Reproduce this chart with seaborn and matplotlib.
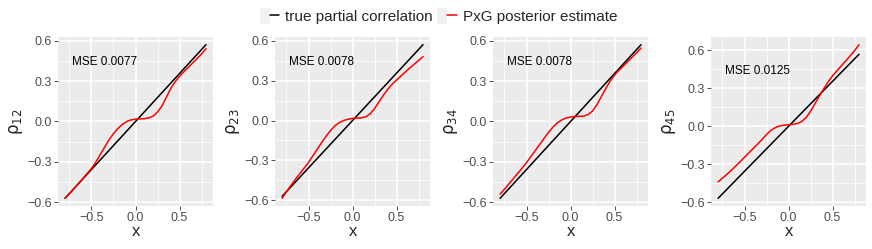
import numpy as np
import pandas as pd
import matplotlib
matplotlib.use('Agg')
import matplotlib.pyplot as plt
from matplotlib.patches import Rectangle
from matplotlib.lines import Line2D
from matplotlib.legend_handler import HandlerTuple
import seaborn as sns

# --- data ---
x_est = [-0.80, -0.75, -0.70, -0.65, -0.60, -0.55, -0.50, -0.45, -0.40, -0.35,
         -0.30, -0.25, -0.20, -0.15, -0.10, -0.05, 0.00, 0.05, 0.10, 0.15,
         0.20, 0.25, 0.30, 0.35, 0.40, 0.45, 0.50, 0.55, 0.60, 0.65,
         0.70, 0.75, 0.80]

est_12 = [-0.570, -0.535, -0.500, -0.462, -0.425, -0.387, -0.348, -0.300, -0.245, -0.190,
          -0.135, -0.090, -0.052, -0.022, 0.000, 0.012, 0.018, 0.019, 0.021, 0.026,
          0.040, 0.070, 0.115, 0.180, 0.245, 0.295, 0.335, 0.370, 0.402, 0.435,
          0.468, 0.502, 0.540]
est_23 = [-0.585, -0.535, -0.488, -0.443, -0.400, -0.358, -0.315, -0.265, -0.215, -0.165,
          -0.118, -0.075, -0.040, -0.015, 0.000, 0.010, 0.016, 0.018, 0.020, 0.028,
          0.050, 0.090, 0.140, 0.190, 0.235, 0.273, 0.305, 0.335, 0.365, 0.395,
          0.423, 0.452, 0.480]
est_34 = [-0.540, -0.502, -0.463, -0.424, -0.385, -0.346, -0.305, -0.260, -0.215, -0.170,
          -0.125, -0.080, -0.042, -0.010, 0.012, 0.026, 0.033, 0.037, 0.038, 0.040,
          0.052, 0.078, 0.125, 0.185, 0.245, 0.300, 0.345, 0.380, 0.413, 0.445,
          0.478, 0.511, 0.545]
est_45 = [-0.440, -0.410, -0.380, -0.348, -0.315, -0.280, -0.245, -0.210, -0.175, -0.140,
          -0.103, -0.065, -0.032, -0.010, 0.003, 0.009, 0.012, 0.015, 0.022, 0.038,
          0.070, 0.120, 0.180, 0.240, 0.298, 0.352, 0.400, 0.440, 0.480, 0.518,
          0.558, 0.600, 0.646]

x_true = [-0.80, 0.00, 0.80]
true_vals = [-0.57, 0.00, 0.57]

pairs = ['12', '23', '34', '45']
estimates = [est_12, est_23, est_34, est_45]
mse = ['0.0077', '0.0078', '0.0078', '0.0125']

TRUE_LAB = 'true partial correlation'
EST_LAB = 'PxG posterior estimate'

sns.set_theme(style='darkgrid')
plt.rcParams['font.family'] = ['Liberation Sans', 'DejaVu Sans']
plt.rcParams['mathtext.fontset'] = 'custom'
plt.rcParams['mathtext.rm'] = 'DejaVu Sans'
plt.rcParams['mathtext.it'] = 'DejaVu Sans:italic'

fig = plt.figure(figsize=(8.72, 2.49), dpi=100)
lefts = [0.0665, 0.3154, 0.5654, 0.8154]
bottom, height, width = 0.1727, 0.6787, 0.1778

for i, (p, est) in enumerate(zip(pairs, estimates)):
    ax = fig.add_axes([lefts[i], bottom, width, height])
    df = pd.concat([
        pd.DataFrame({'x': x_true, 'y': true_vals, 'series': TRUE_LAB}),
        pd.DataFrame({'x': x_est, 'y': est, 'series': EST_LAB}),
    ])
    sns.lineplot(data=df, x='x', y='y', hue='series',
                 palette={TRUE_LAB: 'black', EST_LAB: '#FF0000'},
                 linewidth=1.1, legend=False, ax=ax, sort=False)
    ax.set_facecolor('#EBEBEB')
    ymin, ymax = df['y'].min(), df['y'].max()
    pad = (ymax - ymin) * 0.05
    ax.set_ylim(ymin - pad, ymax + pad)
    ax.set_xlim(-0.88, 0.88)
    ax.set_xticks([-0.5, 0.0, 0.5])
    ax.set_yticks([-0.6, -0.3, 0.0, 0.3, 0.6])
    ax.set_xticks([-0.75, -0.25, 0.25, 0.75], minor=True)
    ax.set_yticks([-0.45, -0.15, 0.15, 0.45], minor=True)
    ax.set_xticklabels(['\u22120.5', '0.0', '0.5'])
    ax.set_yticklabels(['\u22120.6', '\u22120.3', '0.0', '0.3', '0.6'])
    ax.grid(which='major', color='white', linewidth=1.1)
    ax.grid(which='minor', color='white', linewidth=0.55)
    ax.tick_params(which='major', length=2.7, width=0.6, color='#333333',
                   labelsize=9, labelcolor='#4D4D4D', pad=1.5,
                   bottom=True, left=True)
    ax.tick_params(which='minor', length=0)
    for s in ax.spines.values():
        s.set_visible(False)
    ax.set_xlabel('x', fontsize=12, labelpad=0)
    ax.set_ylabel(r'$\mathrm{\rho}_{%s}$' % p, fontsize=12, labelpad=2)
    ax.text(-0.35, 0.44, 'MSE ' + mse[i], fontsize=8.5, ha='center',
            va='center', color='black')

bg = Rectangle((0, 0), 1, 1, facecolor='#F2F2F2', edgecolor='none')
h_true = (bg, Line2D([], [], color='black', linewidth=1.1))
h_est = (bg, Line2D([], [], color='#FF0000', linewidth=1.1))
fig.legend([h_true, h_est], [TRUE_LAB, EST_LAB], ncol=2, frameon=False,
           loc='center', bbox_to_anchor=(0.503, 0.935), fontsize=11,
           handler_map={tuple: HandlerTuple(ndivide=None, pad=0)},
           handlelength=1.25, handleheight=1.2, handletextpad=0.4,
           columnspacing=0.3, borderaxespad=0)

fig.savefig('out.png', dpi=100)
